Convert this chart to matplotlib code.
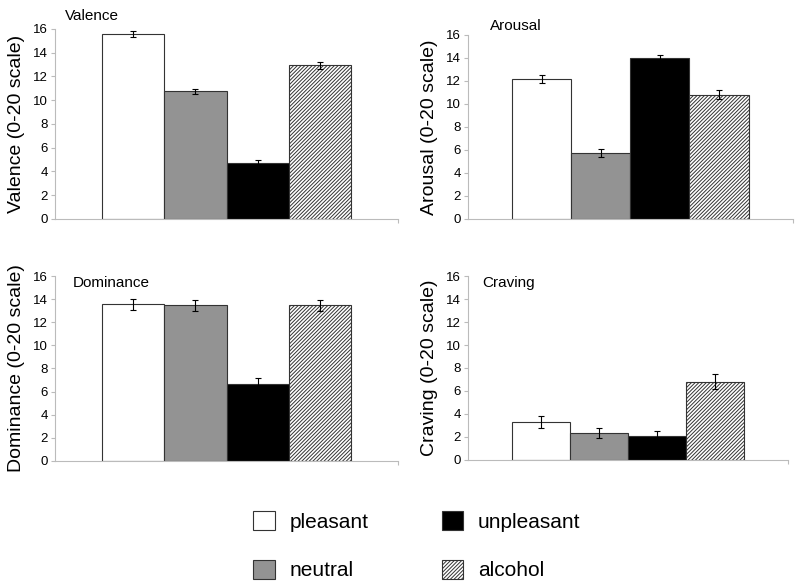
import matplotlib.pyplot as plt
from matplotlib.patches import Patch

plt.rcParams['font.family'] = ['Liberation Sans', 'DejaVu Sans']
plt.rcParams['hatch.linewidth'] = 0.7
plt.rcParams['hatch.color'] = '#4a4a4a'

conditions = ['pleasant', 'neutral', 'unpleasant', 'alcohol']
colors = ['white', '#939393', 'black', 'white']
hatches = ['', '', '', '/' * 9]

valence = [15.6, 10.75, 4.7, 12.95]
valence_err = [0.25, 0.2, 0.25, 0.3]
arousal = [12.15, 5.75, 14.0, 10.8]
arousal_err = [0.35, 0.35, 0.3, 0.4]
dominance = [13.55, 13.45, 6.65, 13.45]
dominance_err = [0.45, 0.5, 0.5, 0.45]
craving = [3.3, 2.35, 2.05, 6.8]
craving_err = [0.5, 0.45, 0.45, 0.65]

panels = [
    ('Valence', valence, valence_err, [0.06875, 0.6276, 0.42875, 0.3231], (0.029, 1.07)),
    ('Arousal', arousal, arousal_err, [0.585, 0.6276, 0.406, 0.3129], (0.068, 1.05)),
    ('Dominance', dominance, dominance_err, [0.06875, 0.2160, 0.42875, 0.3146], (0.052, 0.96)),
    ('Craving', craving, craving_err, [0.585, 0.2177, 0.40, 0.3129], (0.044, 0.96)),
]

fig = plt.figure(figsize=(8, 5.88), dpi=100)

for name, vals, errs, rect, tpos in panels:
    ax = fig.add_axes(rect)
    x = range(len(vals))
    ax.bar(x, vals, width=1.0, color=colors, hatch=hatches,
           edgecolor='#333333', linewidth=0.8, zorder=2)
    ax.errorbar(x, vals, yerr=errs, fmt='none', ecolor='black',
                elinewidth=0.8, capsize=2.5, capthick=0.8, zorder=3)
    ax.set_xlim(-1.25, 4.25)
    ax.set_ylim(0, 16)
    ax.set_yticks(range(0, 17, 2))
    ax.set_xticks([4.25])
    ax.set_xticklabels([''])
    ax.tick_params(axis='x', length=3, color='#bbbbbb')
    ax.tick_params(axis='y', length=3, color='#bbbbbb', labelsize=9.5, pad=2)
    for s in ['top', 'right']:
        ax.spines[s].set_visible(False)
    for s in ['left', 'bottom']:
        ax.spines[s].set_color('#bbbbbb')
        ax.spines[s].set_linewidth(0.8)
    ax.set_ylabel(name + ' (0-20 scale)', fontsize=14, labelpad=6)
    ax.text(tpos[0], tpos[1], name, transform=ax.transAxes, fontsize=11,
            ha='left', va='center')

handles = [Patch(facecolor=c, edgecolor='#333333', hatch=h, linewidth=0.8)
           for c, h in zip(colors, hatches)]
# column-wise fill: pleasant/neutral, unpleasant/alcohol
fig.legend(handles, conditions, ncol=2, loc='center', bbox_to_anchor=(0.521, 0.072),
           frameon=False, fontsize=15, handlelength=1.05, handleheight=1.05,
           handletextpad=0.7, columnspacing=3.5, labelspacing=1.35)

fig.savefig('out.png', dpi=100)
